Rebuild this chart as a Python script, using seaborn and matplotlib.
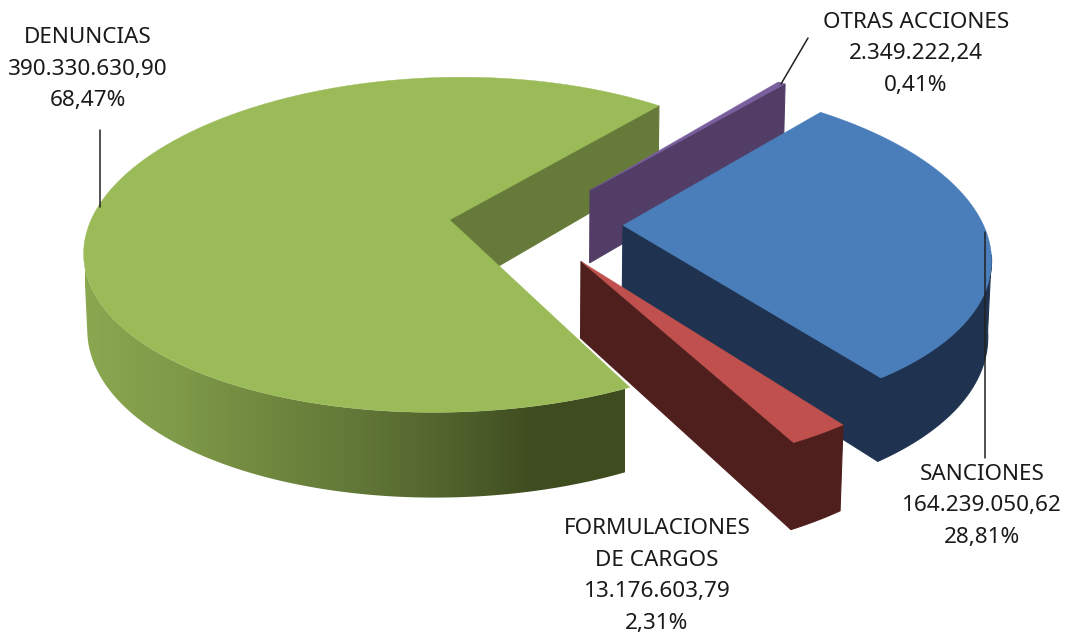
import numpy as np
import seaborn as sns
import matplotlib.pyplot as plt
from matplotlib.patches import Polygon

names = ['DENUNCIAS', 'FORMULACIONES\nDE CARGOS', 'SANCIONES', 'OTRAS ACCIONES']
amounts = ['390.330.630,90', '13.176.603,79', '164.239.050,62', '2.349.222,24']
percents = [68.47, 2.31, 28.81, 0.41]
explode = [0.225, 0.26, 0.258, 0.27]

top_colors = ['#9bbb59', '#c0504d', '#4a7ebb', '#7a5f9e']
wall_colors = ['#667a39', '#4e1f1c', '#1f3350', '#513d65']
green_side = ['#8ba750', '#7f9a49', '#71883f', '#627838', '#52642d', '#3f4c20', '#404d21']

start_angle = 51.0
cx, cy = 530, 223.6
A, B, H = 360, 165, 75
px, py, r = 0.165, 0.149, 0.008


def project(X, Y, Z):
    return (cx + A * X / (1 + px * Y + r * Z),
            cy - (B * Y - H * Z) / (1 + py * Y + r * Z))


def arc(ox, oy, a0, a1, Z, n=120):
    t = np.radians(np.linspace(a0, a1, n))
    return project(ox + np.cos(t), oy + np.sin(t), Z)


def wall(ax, ox, oy, angle, color):
    t = np.radians(angle)
    xs, ys = project(np.array([ox, ox + np.cos(t), ox + np.cos(t), ox]),
                     np.array([oy, oy + np.sin(t), oy + np.sin(t), oy]),
                     np.array([0, 0, 1, 1]))
    ax.fill(xs, ys, color=color, lw=0.8)


def rim_outline(ox, oy, a0, a1):
    tx, ty = arc(ox, oy, a0, a1, 0)
    bx, by = arc(ox, oy, a0, a1, 1)
    return np.r_[tx, bx[::-1]], np.r_[ty, by[::-1]]


def draw_slice(ax, i, a0, a1):
    mid = np.radians((a0 + a1) / 2)
    ox, oy = explode[i] * np.cos(mid), explode[i] * np.sin(mid)

    if i == 0:
        wall(ax, ox, oy, a0, wall_colors[i])
        # rim starts where the ellipse is widest, gradient runs left to right
        xs, ys = rim_outline(ox, oy, 193, a1)
        colors = sns.blend_palette(green_side, 256)
        im = ax.imshow(np.array(colors)[None, :, :], extent=[85, 625, 510, 230],
                       aspect='auto', interpolation='bilinear')
        im.set_clip_path(Polygon(np.c_[xs, ys], transform=ax.transData))
    elif i == 3:
        wall(ax, ox, oy, a0, wall_colors[i])
    else:
        wall(ax, ox, oy, a0, wall_colors[i])
        xs, ys = rim_outline(ox, oy, a0, min(a1, 350))
        ax.fill(xs, ys, color=wall_colors[i], lw=0.8)

    xs, ys = arc(ox, oy, a0, a1, 0)
    sx, sy = project(ox, oy, 0)
    ax.fill(np.r_[sx, xs], np.r_[sy, ys], color=top_colors[i], lw=0.3)


sns.set_style('white')
plt.rcParams['font.family'] = ['Noto Sans', 'DejaVu Sans']

fig = plt.figure(figsize=(10.69, 6.36), dpi=100)
ax = fig.add_axes([0, 0, 1, 1])

edges = start_angle + np.r_[0, np.cumsum(percents)] * 3.6
angles = [(edges[i], edges[i + 1]) for i in range(4)]

# back to front
for i in [0, 3, 2, 1]:
    draw_slice(ax, i, *angles[i])

ax.set_xlim(0, 1069)
ax.set_ylim(636, 0)
ax.axis('off')

# leader lines
ax.plot([100, 100], [130, 207], color='#222222', lw=1.1)
ax.plot([808, 781], [38, 84], color='#222222', lw=1.1)
ax.plot([985, 985], [232, 458], color='#222222', lw=1.1)

label_pos = [(88, 69), (657, 576), (982, 506), (916, 54)]
for i in range(4):
    txt = '%s\n%s\n%s%%' % (names[i], amounts[i], ('%.2f' % percents[i]).replace('.', ','))
    ax.text(label_pos[i][0], label_pos[i][1], txt, ha='center', va='center',
            fontsize=16.2, color='#1a1a1a', linespacing=1.65)

plt.savefig('out.png', dpi=100)
plt.close()
